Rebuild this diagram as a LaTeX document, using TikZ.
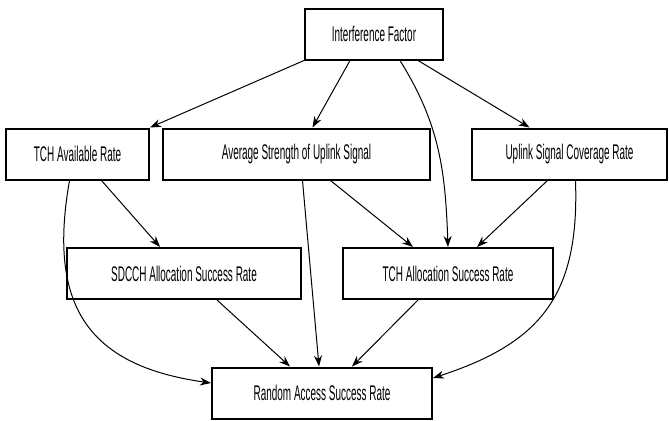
\documentclass[tikz,border=0pt]{standalone}
\usepackage{fontspec}
\setmainfont{Liberation Sans}[FakeStretch=0.47]
\usetikzlibrary{arrows.meta}

\begin{document}
\begin{tikzpicture}[x=0.5pt,y=0.5pt,>={Stealth[length=5.5pt,width=4pt]}]
  \tikzstyle{every node}=[draw,shape=rectangle,line width=1pt,minimum height=25.5pt,inner sep=0pt,font=\fontsize{10.6}{12}\selectfont]
  \tikzstyle{link}=[->,line width=0.5pt]
  \useasboundingbox (0,0) rectangle (669,420);
% factors
  \node[minimum width=69pt]    (interference) at (374,386)   {Interference Factor};
  \node[minimum width=71.5pt]  (tchav)        at (77.5,266)  {TCH Available Rate};
  \node[minimum width=133.5pt] (avg)          at (296.5,266) {Average Strength of Uplink Signal};
  \node[minimum width=97.5pt]  (uplink)       at (569.5,266) {Uplink Signal Coverage Rate};
  \node[minimum width=117pt]   (sdcch)        at (184,146.5) {SDCCH Allocation Success Rate};
  \node[minimum width=105pt]   (tchal)        at (448,146.5) {TCH Allocation Success Rate};
  \node[minimum width=110pt]   (ra)           at (322,27)    {Random Access Success Rate};
% influences
  \draw[link] (interference.south west) -- (tchav.north east);
  \draw[link] ([xshift=-12pt]interference.south) -- ([xshift=8pt]avg.north);
  \draw[link] ([xshift=13pt]interference.south) to[out=-58,in=92] (tchal.north);
  \draw[link] ([xshift=22pt]interference.south) -- ([xshift=-20pt]uplink.north);
  \draw[link] ([xshift=12pt]tchav.south) -- ([xshift=-12pt]sdcch.north);
  \draw[link] ([xshift=-4pt]tchav.south) to[out=-100,in=172,looseness=1.3] ([yshift=5pt]ra.west);
  \draw[link] ([xshift=3pt]avg.south) -- ([xshift=-1.5pt]ra.north);
  \draw[link] ([xshift=17pt]avg.south) -- ([xshift=-17.5pt]tchal.north);
  \draw[link] ([xshift=-11pt]uplink.south) -- ([xshift=14.5pt]tchal.north);
  \draw[link] ([xshift=3pt]uplink.south) to[out=-88,in=18,looseness=1.2] ([yshift=7.5pt]ra.east);
  \draw[link] ([xshift=16.5pt]sdcch.south) -- ([xshift=-16pt]ra.north);
  \draw[link] ([xshift=-15pt]tchal.south) -- ([xshift=15pt]ra.north);
\end{tikzpicture}
\end{document}
